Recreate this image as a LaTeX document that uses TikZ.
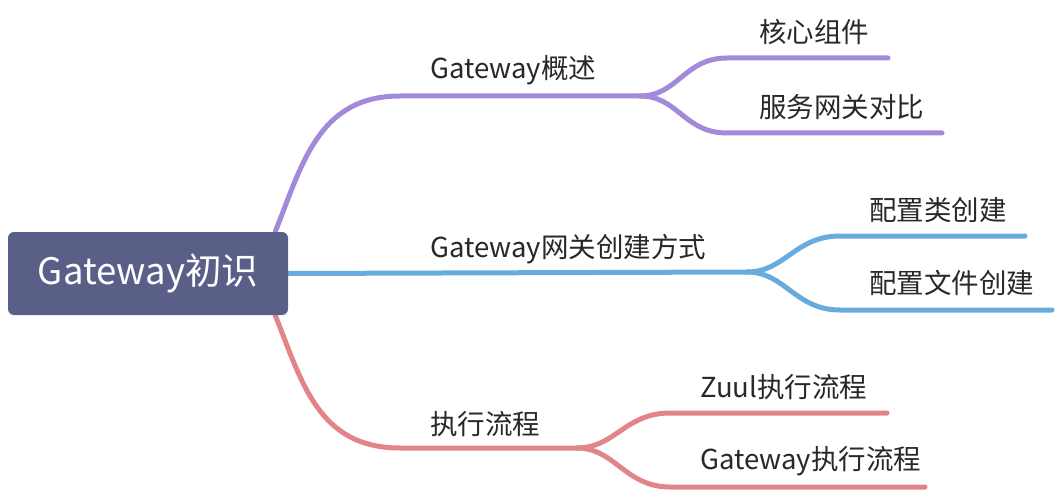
\documentclass[tikz,border=0pt]{standalone}
\usepackage{fontspec}
\setmainfont{Noto Sans CJK SC}
\usetikzlibrary{positioning}
\definecolor{RootSlate}{RGB}{89,95,135}
\definecolor{TopPurple}{RGB}{163,137,217}
\definecolor{MidBlue}{RGB}{104,172,222}
\definecolor{LowRed}{RGB}{226,133,137}
\definecolor{LabelGray}{RGB}{40,40,40}
\pgfdeclarelayer{background}
\pgfsetlayers{background,main}

\begin{document}
\begin{tikzpicture}[x=1pt,y=-1pt,
    branch/.style={line width=5pt,line cap=round},
    topic/.style={anchor=base west,inner sep=0pt,text=LabelGray,
      font=\fontsize{27.5}{27.5}\selectfont}]
  \useasboundingbox (0,0) rectangle (1060,492);
  % central topic
  \node[fill=RootSlate,rounded corners=6pt,minimum width=280pt,minimum height=83pt,
    text=white,font=\fontsize{36.5}{36.5}\selectfont] (root) at (148,273.5) {Gateway初识};
  % main topics
  \node[topic] (overview) at (430,79) {Gateway概述};
  \node[topic] (create) at (430,257) {Gateway网关创建方式};
  \node[topic] (flow) at (430,434) {执行流程};
  % sub topics
  \node[topic] (core) at (759,43) {核心组件};
  \node[topic] (compare) at (759,118) {服务网关对比};
  \node[topic] (cfgclass) at (869,220) {配置类创建};
  \node[topic] (cfgfile) at (869,293) {配置文件创建};
  \node[topic] (zuul) at (700,397) {Zuul执行流程};
  \node[topic] (gwflow) at (700,469) {Gateway执行流程};
  % split points and line ends
  \coordinate (overviewSplit) at (640,96);
  \coordinate (createSplit) at (747,272);
  \coordinate (flowSplit) at (577,448);
  \coordinate (coreEnd) at (888,58);
  \coordinate (compareEnd) at (942,133);
  \coordinate (cfgclassEnd) at (1025,236);
  \coordinate (cfgfileEnd) at (1052,310);
  \coordinate (zuulEnd) at (887,413);
  \coordinate (gwflowEnd) at (925,487);
  \begin{pgfonlayer}{background}
    \draw[branch,TopPurple] ([xshift=-13pt]root.north east)
      .. controls (302,165) and (318,96) .. (400,96) -- (overviewSplit);
    \draw[branch,TopPurple] (overviewSplit) .. controls (678,96) and (684,58) .. (727,58) -- (coreEnd);
    \draw[branch,TopPurple] (overviewSplit) .. controls (678,96) and (684,133) .. (727,133) -- (compareEnd);
    \draw[branch,MidBlue] (root.east) -- (createSplit);
    \draw[branch,MidBlue] (createSplit) .. controls (785,272) and (795,236) .. (840,236) -- (cfgclassEnd);
    \draw[branch,MidBlue] (createSplit) .. controls (785,272) and (795,310) .. (840,310) -- (cfgfileEnd);
    \draw[branch,LowRed] ([xshift=-13pt]root.south east)
      .. controls (302,382) and (318,448) .. (400,448) -- (flowSplit);
    \draw[branch,LowRed] (flowSplit) .. controls (615,448) and (625,413) .. (670,413) -- (zuulEnd);
    \draw[branch,LowRed] (flowSplit) .. controls (615,448) and (625,487) .. (670,487) -- (gwflowEnd);
  \end{pgfonlayer}
\end{tikzpicture}
\end{document}
